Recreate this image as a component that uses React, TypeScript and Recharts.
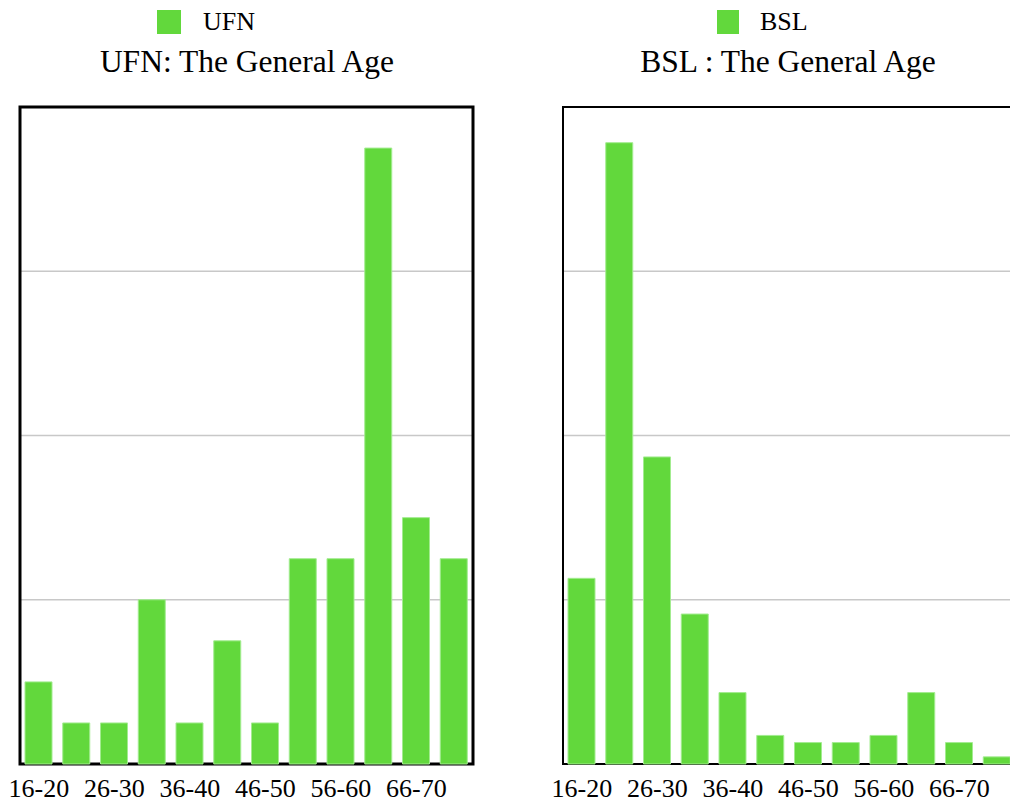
import React from "react";
import { BarChart, Bar, XAxis, YAxis, CartesianGrid, Legend, ReferenceArea } from "recharts";

const ageGroups = ["16-20", "21-25", "26-30", "31-35", "36-40", "41-45", "46-50", "51-55", "56-60", "61-65", "66-70", "71-75"];
const ufnValues = [2, 1, 1, 4, 1, 3, 1, 5, 5, 15, 6, 5];
const bslValues = [26, 87, 43, 21, 10, 4, 3, 3, 4, 10, 3, 1];
const ufnTicks = [0, 4, 8, 12, 16];
const bslTicks = [0, 23, 46, 69, 92];

const FONT = "'Liberation Serif', 'Times New Roman', serif";
const BAR_FILL = "#62d83c";
const BAR_STROKE = "#a3ec90";

type PanelProps = {
  name: string;
  title: string;
  values: number[];
  ticks: number[];
  iconX: number;
  iconSize: number;
  labelX: number;
  titleX: number;
  borderWidth: number;
};

function Panel({ name, title, values, ticks, iconX, iconSize, labelX, titleX, borderWidth }: PanelProps) {
  const data = ageGroups.map((g, i) => ({ age: g, [name]: values[i] }));
  const max = ticks[ticks.length - 1];
  const renderLegend = () => (
    <svg width={490} height={100} style={{ display: "block" }}>
      <rect x={iconX} y={10} width={iconSize} height={24} fill={BAR_FILL} />
      <text x={labelX} y={30} fontSize={26} fontFamily={FONT} fill="#000">{name}</text>
      <text x={titleX} y={72} fontSize={31.5} fontFamily={FONT} fill="#000" textAnchor="middle">{title}</text>
    </svg>
  );
  return (
    <BarChart width={490} height={802} data={data} margin={{ top: 7, right: 17, left: 20, bottom: 0 }}>
      <Legend
        verticalAlign="top"
        align="left"
        content={renderLegend}
        wrapperStyle={{ top: 0, left: 0, width: 490, height: 100 }}
      />
      <CartesianGrid vertical={false} stroke="#c8c8c8" strokeWidth={1.5} />
      <XAxis
        dataKey="age"
        interval={1}
        tickLine={false}
        axisLine={false}
        height={38}
        tickMargin={9}
        tick={{ fontSize: 26, fill: "#000", fontFamily: FONT }}
      />
      <YAxis hide domain={[0, max]} ticks={ticks} />
      <Bar dataKey={name} fill={BAR_FILL} stroke={BAR_STROKE} strokeWidth={1} barSize={27} isAnimationActive={false} />
      <ReferenceArea y1={0} y2={max} fill="none" stroke="#000" strokeWidth={borderWidth} ifOverflow="visible" />
    </BarChart>
  );
}

export default function App() {
  return (
    <div style={{ position: "absolute", left: 0, top: 0, width: 1010, height: 802, overflow: "hidden", background: "#fff" }}>
      <div style={{ position: "absolute", left: 0, top: 0 }}>
        <Panel name="UFN" title="UFN: The General Age" values={ufnValues} ticks={ufnTicks}
          iconX={157} iconSize={24} labelX={203} titleX={247} borderWidth={3} />
      </div>
      <div style={{ position: "absolute", left: 543, top: 0 }}>
        <Panel name="BSL" title="BSL : The General Age" values={bslValues} ticks={bslTicks}
          iconX={174} iconSize={22} labelX={217} titleX={245} borderWidth={2} />
      </div>
    </div>
  );
}
